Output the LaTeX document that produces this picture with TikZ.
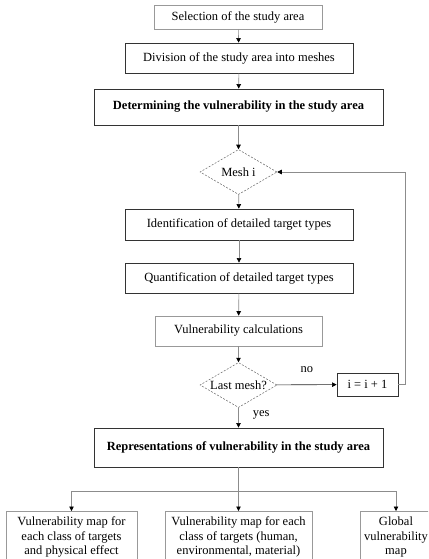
\documentclass[tikz,border=0pt]{standalone}
\usepackage{fontspec}
\setmainfont{Liberation Serif}
\usetikzlibrary{shapes.geometric,arrows.meta}

\begin{document}
\begin{tikzpicture}[x=1pt,y=-1pt]
                \tikzstyle{every node}+=[inner sep=0pt,font=\fontsize{12.5}{14.5}\selectfont]
                \tikzstyle{boldtext}=[font=\fontsize{12.5}{14.5}\selectfont\bfseries]
                \tikzstyle{darkbox}=[rectangle,draw=black!80,line width=0.8pt]
                \tikzstyle{lightbox}=[rectangle,draw=black!40,line width=0.6pt]
                \tikzstyle{mapbox}=[lightbox,anchor=north,align=center,minimum height=52pt]
                \tikzstyle{decision}=[diamond,draw=black!60,line width=0.5pt,dash pattern=on 2pt off 1.5pt,aspect=1.7,minimum width=77pt,minimum height=45pt]
                \tikzstyle{link}=[draw=black!45,line width=0.6pt,-{Triangle[length=4.5pt,width=4.5pt,black]}]
                \useasboundingbox (0,0) rectangle (428,559);
                \clip (0,0) rectangle (428,559);
                \node [lightbox,minimum width=168pt,minimum height=24pt] (select) at (238,17) {Selection of the study area};
                \node [darkbox,minimum width=228pt,minimum height=30pt] (divide) at (239,58) {Division of the study area into meshes};
                \node [darkbox,boldtext,minimum width=289pt,minimum height=36pt] (determine) at (238.5,107) {Determining the vulnerability in the study area};
                \node [decision] (mesh) at (238.5,172) {Mesh i};
                \node [darkbox,minimum width=228pt,minimum height=31pt] (identify) at (239,224.5) {Identification of detailed target types};
                \node [darkbox,minimum width=228pt,minimum height=30pt] (quantify) at (239,278) {Quantification of detailed target types};
                \node [lightbox,minimum width=167pt,minimum height=30pt] (calc) at (238.5,331) {Vulnerability calculations};
                \node [decision] (last) at (238.5,385) {Last mesh?};
                \node [darkbox,minimum width=61pt,minimum height=23pt] (incr) at (367.5,384.5) {i = i + 1};
                \node [darkbox,boldtext,minimum width=289pt,minimum height=39pt] (repr) at (238.5,447.5) {Representations of vulnerability in the study area};
                \coordinate (split) at (238.5,491);
                \node [mapbox,minimum width=131pt] (mapeffect) at (71.5,511) {Vulnerability map for\\each class of targets\\and physical effect};
                \node [mapbox,minimum width=147pt] (mapclass) at (238.5,511) {Vulnerability map for each\\class of targets (human,\\environmental, material)};
                \node [mapbox,minimum width=72pt] (mapglobal) at (396,511) {Global\\vulnerability\\map};
                \draw [link] (select) -- (divide);
                \draw [link] (divide) -- (determine);
                \draw [link] (determine) -- (mesh);
                \draw [link] (mesh) -- (identify);
                \draw [link] (identify) -- (quantify);
                \draw [link] (quantify) -- (calc);
                \draw [link] (calc) -- (last);
                \draw [link,draw=black!85] (last) -- node [above=12pt] {no} (incr);
                \draw [link] (incr.east) -- ++(7,0) |- (mesh.east);
                \draw [link] (last) -- node [pos=0.35,right=14pt] {yes} (repr);
                \draw [draw=black!45,line width=0.6pt] (repr) -- (split);
                \draw [link] (split) -| (mapeffect.north);
                \draw [link] (split) -- (mapclass.north);
                \draw [link] (split) -| (mapglobal.north);
                \end{tikzpicture}
\end{document}
